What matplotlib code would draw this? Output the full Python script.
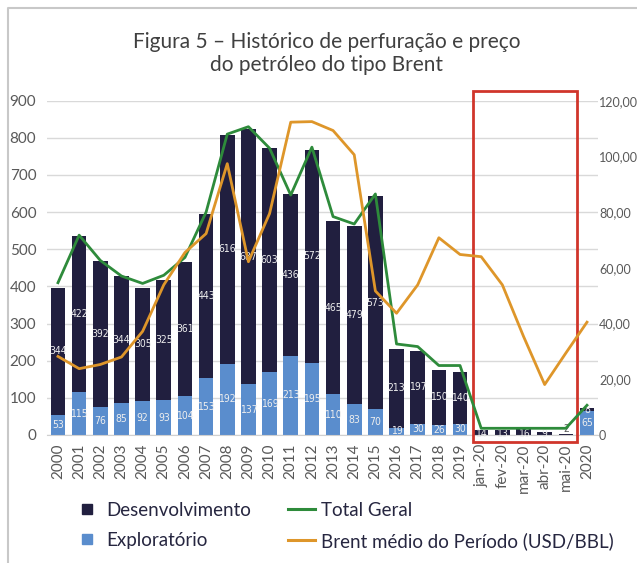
import matplotlib
matplotlib.use("Agg")
import matplotlib.pyplot as plt
from matplotlib.lines import Line2D
from matplotlib.patches import Rectangle
import numpy as np

plt.rcParams["font.family"] = ["Lato", "DejaVu Sans"]

categories = ["2000", "2001", "2002", "2003", "2004", "2005", "2006", "2007", "2008",
              "2009", "2010", "2011", "2012", "2013", "2014", "2015", "2016", "2017",
              "2018", "2019", "jan-20", "fev-20", "mar-20", "abr-20", "mai-20", "2020"]
exploratorio = [53, 115, 76, 85, 92, 93, 104, 153, 192, 137, 169, 213, 195, 110, 83, 70,
                19, 30, 26, 30, 0, 0, 0, 0, 0, 65]
desenvolvimento = [344, 422, 392, 344, 305, 325, 361, 443, 616, 687, 603, 436, 572, 465,
                   479, 573, 213, 197, 150, 140, 14, 13, 16, 9, 2, 8]
total_geral = [410, 538, 470, 428, 408, 430, 478, 600, 810, 830, 772, 646, 775, 588, 568,
               649, 245, 238, 187, 187, 18, 18, 18, 18, 18, 80]
brent = [28.2, 23.8, 25.3, 28.0, 37.2, 53.9, 65.5, 72.3, 97.4, 62.2, 79.5, 112.3, 112.5,
         109.3, 100.6, 51.7, 43.7, 53.9, 70.8, 64.8, 64.0, 53.9, 35.4, 18.1, 29.4, 40.5]
left_ticks = [0, 100, 200, 300, 400, 500, 600, 700, 800, 900]
right_ticks = [0, 20, 40, 60, 80, 100, 120]
right_labels = ["0", "20,00", "40,00", "60,00", "80,00", "100,00", "120,00"]
highlight = ("jan-20", "mai-20")

C_DES = "#211f3f"
C_EXP = "#5a8dcd"
C_TOT = "#2e8b3b"
C_BRE = "#de962a"
GRAY = "#595959"
LBL = dict(fontsize=7.5, family="DejaVu Sans", fontstretch="condensed", zorder=3)

fig = plt.figure(figsize=(6.37, 5.63), dpi=100)
ax = fig.add_axes([0.0744, 0.2274, 0.8637, 0.5937])
x = np.arange(len(categories))

ax.bar(x, exploratorio, width=0.69, color=C_EXP, zorder=2)
ax.bar(x, desenvolvimento, width=0.69, bottom=exploratorio, color=C_DES, zorder=2)

for i in x:
    e, d = exploratorio[i], desenvolvimento[i]
    if e > 0:
        ax.text(i, e / 2, str(e), ha="center", va="center", color="#eeeeee", **LBL)
    ax.text(i, e + d / 2 if d > 20 else e + 3, str(d), ha="center",
            va="center" if d >= 5 else "bottom",
            color="#eeeeee" if d >= 5 else GRAY, **LBL)

ax.set_xlim(-0.5, len(categories) - 0.5)
ax.set_ylim(0, 900)
ax.set_yticks(left_ticks)
ax.set_xticks(x)
ax.set_xticklabels(categories, rotation=90, fontsize=11, color=GRAY)
ax.tick_params(axis="y", length=0, labelsize=11, labelcolor=GRAY, pad=8)
ax.tick_params(axis="x", length=0, pad=6)
ax.grid(axis="y", color="#d9d9d9", linewidth=1, zorder=0)
ax.set_axisbelow(True)
for s in ("top", "left", "right"):
    ax.spines[s].set_visible(False)
ax.spines["bottom"].set_color("#d0d0d0")

ax2 = ax.twinx()
ax2.plot(x, total_geral, color=C_TOT, linewidth=2, zorder=4)
ax2.set_ylim(0, 900)
ax2.set_yticks([])
ax3 = ax.twinx()
ax3.plot(x, brent, color=C_BRE, linewidth=2, zorder=4)
ax3.set_ylim(0, 120)
ax3.set_yticks(right_ticks)
ax3.set_yticklabels(right_labels)
ax3.tick_params(axis="y", length=0, labelsize=9, labelcolor=GRAY, pad=1)
for a in (ax2, ax3):
    for s in a.spines.values():
        s.set_visible(False)

# red highlight box around the monthly 2020 values
i0, i1 = categories.index(highlight[0]), categories.index(highlight[1])
ax.add_patch(Rectangle((i0 - 0.4, -19), i1 - i0 + 0.93, 946, fill=False,
                       edgecolor="#d0352b", linewidth=2, clip_on=False, zorder=5))

fig.text(0.513, 0.905, "Figura 5 – Histórico de perfuração e preço\ndo petróleo do tipo Brent",
         ha="center", va="center", fontsize=15, color="#404040", linespacing=1.15)

handles = [Line2D([], [], linestyle="none", marker="s", markersize=7, color=C_DES),
           Line2D([], [], linestyle="none", marker="s", markersize=7, color=C_EXP),
           Line2D([], [], color=C_TOT, linewidth=2.2),
           Line2D([], [], color=C_BRE, linewidth=2.2)]
labels = ["Desenvolvimento", "Exploratório", "Total Geral", "Brent médio do Período (USD/BBL)"]
fig.legend(handles, labels, loc="center", bbox_to_anchor=(0.539, 0.066), ncol=2,
           frameon=False, fontsize=13.5, handlelength=1.45, handletextpad=0.3,
           columnspacing=2.0, labelspacing=0.7, labelcolor="#262640")

# border of the original chart box
fig.add_artist(Line2D([8 / 637, 8 / 637, 1], [0, 1 - 8 / 563, 1 - 8 / 563],
                      transform=fig.transFigure, color="#c8c8c8", linewidth=1.5))

fig.savefig("out.png", dpi=100)
